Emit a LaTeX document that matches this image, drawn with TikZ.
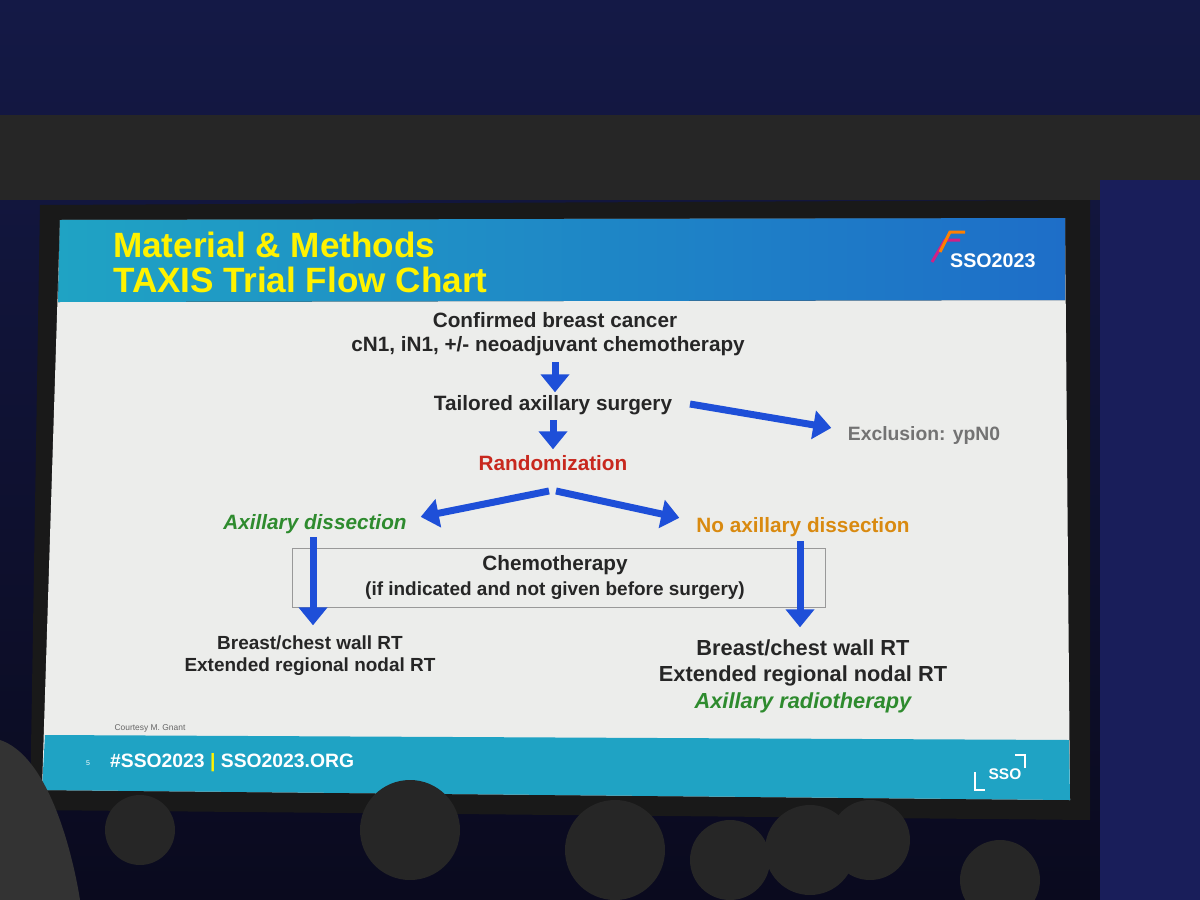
\documentclass[tikz,border=0pt]{standalone}
\usepackage{fontspec}
\setmainfont{Liberation Sans}
\usetikzlibrary{arrows.meta}
\definecolor{ablue}{HTML}{1E4FD8}
\definecolor{rgreen}{HTML}{2E8B2E}
\definecolor{rorange}{HTML}{D98A10}
\definecolor{rred}{HTML}{C8281E}
\definecolor{teal1}{HTML}{1FA3C4}
\definecolor{hblue}{HTML}{1E6EC8}
\definecolor{slidebg}{HTML}{ECEDEB}
\definecolor{bgtop}{HTML}{141946}
\definecolor{bgbot}{HTML}{0A0A1E}
\definecolor{curt}{HTML}{191E5A}
\tikzset{
 t/.style={font=\fontsize{29.5}{32}\selectfont\bfseries, text=black!85, align=center, inner sep=0pt},
 ar/.style={draw=ablue, line width=3.5mm, -{Triangle[length=9mm,width=14mm]}, shorten >=1pt},
}
\begin{document}
\begin{tikzpicture}[x=0.05cm,y=-0.05cm]
\useasboundingbox (0,0) rectangle (1200,900);
\fill[top color=bgtop, bottom color=bgbot] (0,0) rectangle (1200,900);
\fill[black!85] (0,115) rectangle (1200,200);
\fill[curt] (1100,180) rectangle (1200,900);
\fill[black!90] (40,205) -- (1090,200) -- (1090,820) -- (30,810) -- cycle;
% slide
\fill[slidebg] (60,220) -- (1065,218) -- (1070,800) -- (42,790) -- cycle;
\fill[left color=teal1, right color=hblue] (60,220) -- (1065,218) -- (1065,300) -- (58,302) -- cycle;
\fill[teal1] (45,735) -- (1069,740) -- (1070,800) -- (42,790) -- cycle;
% header
\node[anchor=west, text=yellow, font=\fontsize{50}{54}\selectfont\bfseries, inner sep=0pt] (h1) at (113,245) {Material \& Methods};
\node[anchor=west, text=yellow, font=\fontsize{50}{54}\selectfont\bfseries, inner sep=0pt] (h2) at (113,280) {TAXIS Trial Flow Chart};
\node[text=white, font=\fontsize{28}{30}\selectfont\bfseries, inner sep=0pt, anchor=west] (logo) at (950,261) {SSO2023};
\draw[magenta!70!violet, line width=1.5mm] (932,262) -- (945,240) -- (960,240);
\draw[orange, line width=1.5mm] (940,252) -- (950,232) -- (965,232);
% flow
\node[t] (c1) at (555,320) {Confirmed breast cancer};
\node[t] (c2) at (548,346) {cN1, iN1, +/- neoadjuvant chemotherapy};
\node[t] (tas) at (553,405) {Tailored axillary surgery};
\node[t, text=black!55, font=\fontsize{27.5}{30}\selectfont\bfseries] (exc) at (924,435) {Exclusion: ypN0};
\node[t, text=rred] (rand) at (553,463) {Randomization};
\node[t, text=rgreen, font=\fontsize{29.5}{32}\selectfont\bfseries\itshape] (ad) at (315,524) {Axillary dissection};
\node[t, text=rorange] (nad) at (803,527) {No axillary dissection};
\draw[black!40, line width=0.4mm] (292,548) rectangle (825,607);
\node[t] (chemo) at (555,565) {Chemotherapy};
\node[t, font=\fontsize{27}{30}\selectfont\bfseries] (chemo2) at (555,591) {(if indicated and not given before surgery)};
\node[t, font=\fontsize{27}{30}\selectfont\bfseries] (l1) at (310,643) {Breast/chest wall RT};
\node[t, font=\fontsize{27}{30}\selectfont\bfseries] (l2) at (310,667) {Extended regional nodal RT};
\node[t, font=\fontsize{31}{33}\selectfont\bfseries] (r1) at (803,648) {Breast/chest wall RT};
\node[t, font=\fontsize{31}{33}\selectfont\bfseries] (r2) at (803,676) {Extended regional nodal RT};
\node[t, text=rgreen, font=\fontsize{31}{33}\selectfont\bfseries\itshape] (r3) at (803,703) {Axillary radiotherapy};
\node[font=\fontsize{12}{14}\selectfont, text=black!60, inner sep=0pt] (court) at (150,728) {Courtesy M. Gnant};
% arrows
\coordinate (a1) at (555,362); \coordinate (a1e) at (555,393);
\draw[ar] (a1) -- (a1e);
\coordinate (a2) at (553,420); \coordinate (a2e) at (553,450);
\draw[ar] (a2) -- (a2e);
\coordinate (e1) at (690,404); \coordinate (e2) at (832,428);
\draw[ar] (e1) -- (e2);
\coordinate (s) at (549,491); \coordinate (s2) at (556,491);
\coordinate (sl) at (420,517); \coordinate (sr) at (680,518);
\draw[ar] (s) -- (sl);
\draw[ar] (s2) -- (sr);
\coordinate (ld) at (313,537); \coordinate (lde) at (313,626);
\coordinate (rd) at (800,541); \coordinate (rde) at (800,628);
\draw[ar] (ld) -- (lde);
\draw[ar] (rd) -- (rde);
% footer
\node[anchor=west, text=white, font=\fontsize{27.5}{30}\selectfont\bfseries, inner sep=0pt] (foot) at (110,763) {\#SSO2023 {\color{yellow}|} SSO2023.ORG};
\node[text=white, font=\fontsize{10}{12}\selectfont, inner sep=0pt] (pg) at (88,763) {5};
\node[text=white, font=\fontsize{22}{24}\selectfont\bfseries, inner sep=0pt] (sso) at (1005,774) {SSO};
\draw[white, line width=0.8mm] (975,772) -- (975,790) -- (985,790) (1025,768) -- (1025,755) -- (1015,755);
% audience silhouettes
\fill[black!80] (0,740) .. controls (60,760) and (80,900) .. (80,900) -- (0,900) -- cycle;
\foreach \x/\y/\r in {140/830/35,410/830/50,615/850/50,730/860/40,810/850/45,870/840/40,1000/880/40}
  \fill[black!85] (\x,\y) circle (\r);
\end{tikzpicture}
\end{document}
